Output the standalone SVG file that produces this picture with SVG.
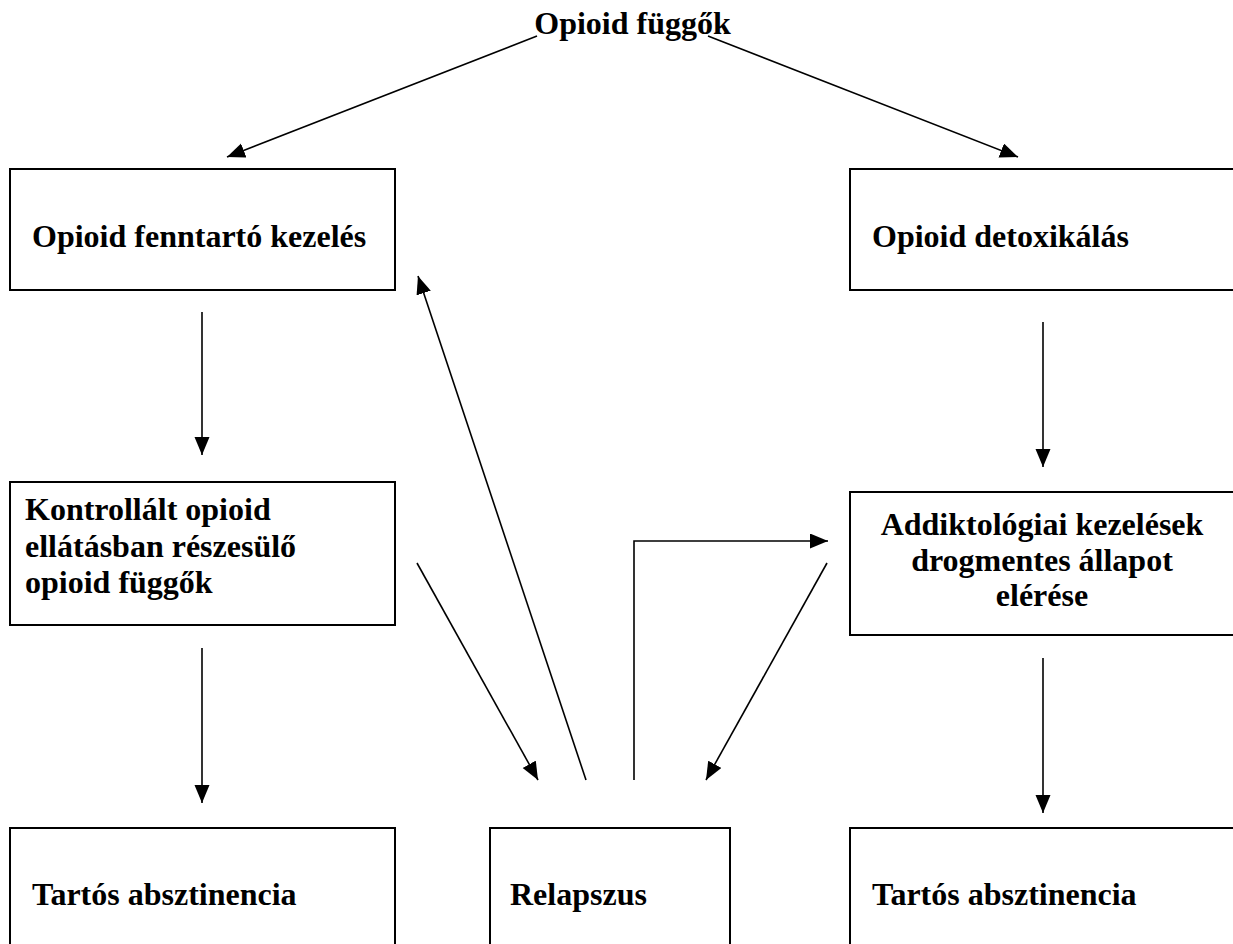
<svg xmlns="http://www.w3.org/2000/svg" width="1233" height="944" viewBox="0 0 1233 944">
<style>
.box{fill:#fff;stroke:#000;stroke-width:2}
.t{font-family:"Liberation Serif","Times New Roman",serif;font-weight:bold;font-size:32px;fill:#000}
.c{fill:none;stroke:#000;stroke-width:1.6}
</style>
<defs>
<marker id="ah" markerUnits="userSpaceOnUse" markerWidth="20" markerHeight="16" refX="18" refY="7.5" orient="auto">
<path d="M0,0 L18,7.5 L0,15 z" fill="#000"/>
</marker>
</defs>
<rect width="1233" height="944" fill="#fff"/>
<g id="title"><text class="t" x="632.5" y="34" text-anchor="middle">Opioid függők</text></g>
<g id="n1"><rect class="box" x="10" y="169" width="385" height="121"/><text class="t" x="32" y="247">Opioid fenntartó kezelés</text></g>
<g id="n2"><rect class="box" x="850" y="169" width="400" height="121"/><text class="t" x="872" y="247">Opioid detoxikálás</text></g>
<g id="n3"><rect class="box" x="10" y="482" width="385" height="143"/><text class="t" x="25" y="520">Kontrollált opioid</text><text class="t" x="25" y="557">ellátásban részesülő</text><text class="t" x="25" y="593">opioid függők</text></g>
<g id="n4"><rect class="box" x="850" y="492" width="400" height="143"/><text class="t" x="1042" y="535" text-anchor="middle">Addiktológiai kezelések</text><text class="t" x="1042" y="571" text-anchor="middle">drogmentes állapot</text><text class="t" x="1042" y="606" text-anchor="middle">elérése</text></g>
<g id="n5"><rect class="box" x="10" y="828" width="385" height="140"/><text class="t" x="32" y="905">Tartós absztinencia</text></g>
<g id="n6"><rect class="box" x="490" y="828" width="240" height="140"/><text class="t" x="510" y="905">Relapszus</text></g>
<g id="n7"><rect class="box" x="850" y="828" width="400" height="140"/><text class="t" x="872" y="905">Tartós absztinencia</text></g>
<g id="connectors">
<line class="c" x1="537" y1="36" x2="227" y2="157" marker-end="url(#ah)"/>
<line class="c" x1="708" y1="36" x2="1018" y2="157" marker-end="url(#ah)"/>
<line class="c" x1="202" y1="312" x2="202" y2="455" marker-end="url(#ah)"/>
<line class="c" x1="1043" y1="322" x2="1043" y2="467" marker-end="url(#ah)"/>
<line class="c" x1="202" y1="648" x2="202" y2="803" marker-end="url(#ah)"/>
<line class="c" x1="1043" y1="658" x2="1043" y2="813" marker-end="url(#ah)"/>
<line class="c" x1="417" y1="563" x2="538" y2="780" marker-end="url(#ah)"/>
<line class="c" x1="586" y1="780" x2="418" y2="276" marker-end="url(#ah)"/>
<polyline class="c" points="634,780 634,541 828,541" marker-end="url(#ah)"/>
<line class="c" x1="827" y1="563" x2="706" y2="780" marker-end="url(#ah)"/>
</g>
</svg>
